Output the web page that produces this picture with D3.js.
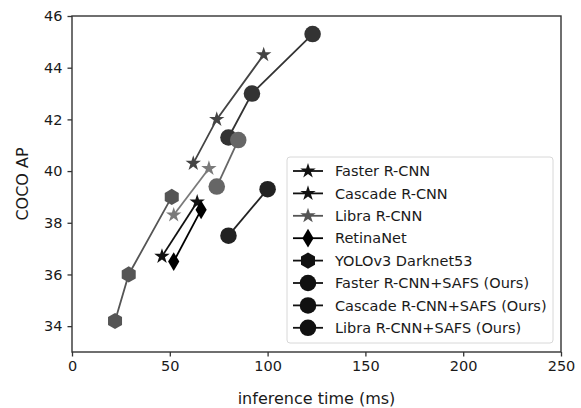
<!DOCTYPE html>
<html>
<head>
<meta charset="utf-8">
<script src="https://cdn.jsdelivr.net/npm/d3@7"></script>
<style>
  body { margin: 0; background: #fff; }
  text { font-family: "DejaVu Sans", sans-serif; fill: #1a1a1a; }
</style>
</head>
<body>
<div id="chart"></div>
<script>
// series data (inference time ms, COCO AP)
var fasterX = [46, 64],            fasterY = [36.7, 38.8];
var cascadeX = [62, 74, 98],       cascadeY = [40.3, 42.0, 44.5];
var libraX = [52, 70],             libraY = [38.3, 40.1];
var retinaX = [52, 66],            retinaY = [36.5, 38.5];
var yoloX = [22, 29, 51],          yoloY = [34.2, 36.0, 39.0];
var fasterSafsX = [80, 100],       fasterSafsY = [37.5, 39.3];
var cascadeSafsX = [80, 92, 123],  cascadeSafsY = [41.3, 43.0, 45.3];
var libraSafsX = [74, 85],         libraSafsY = [39.4, 41.2];

var seriesNames = ["Faster R-CNN", "Cascade R-CNN", "Libra R-CNN", "RetinaNet", "YOLOv3 Darknet53",
  "Faster R-CNN+SAFS (Ours)", "Cascade R-CNN+SAFS (Ours)", "Libra R-CNN+SAFS (Ours)"];
var xTicks = [0, 50, 100, 150, 200, 250];
var yTicks = [34, 36, 38, 40, 42, 44, 46];

// custom marker shapes
var hexagon = {
  draw: function(ctx, size) {
    var r = Math.sqrt(size / (1.5 * Math.sqrt(3)));
    for (var i = 0; i < 6; i++) {
      var a = Math.PI / 2 + i * Math.PI / 3;
      if (i == 0) ctx.moveTo(r * Math.cos(a), -r * Math.sin(a));
      else ctx.lineTo(r * Math.cos(a), -r * Math.sin(a));
    }
    ctx.closePath();
  }
};
var thinDiamond = {
  draw: function(ctx, size) {
    var h = Math.sqrt(size / 0.6); // full height
    var w = 0.6 * h;
    ctx.moveTo(0, -h / 2); ctx.lineTo(w / 2, 0); ctx.lineTo(0, h / 2); ctx.lineTo(-w / 2, 0);
    ctx.closePath();
  }
};

function zip(xs, ys) { return xs.map(function(x, i) { return [x, ys[i]]; }); }

var series = [
  {name: seriesNames[0], pts: zip(fasterX, fasterY), color: "#111", legColor: "#111", sym: d3.symbolStar, size: 74},
  {name: seriesNames[1], pts: zip(cascadeX, cascadeY), color: "#444", legColor: "#111", sym: d3.symbolStar, size: 74},
  {name: seriesNames[2], pts: zip(libraX, libraY), color: "#7a7a7a", legColor: "#555", sym: d3.symbolStar, size: 74},
  {name: seriesNames[3], pts: zip(retinaX, retinaY), color: "#000", legColor: "#000", sym: thinDiamond, size: 210},
  {name: seriesNames[4], pts: zip(yoloX, yoloY), color: "#555", legColor: "#111", sym: hexagon, size: 170},
  {name: seriesNames[5], pts: zip(fasterSafsX, fasterSafsY), color: "#222", legColor: "#111", sym: d3.symbolCircle, size: 215},
  {name: seriesNames[6], pts: zip(cascadeSafsX, cascadeSafsY), color: "#333", legColor: "#111", sym: d3.symbolCircle, size: 215},
  {name: seriesNames[7], pts: zip(libraSafsX, libraSafsY), color: "#666", legColor: "#111", sym: d3.symbolCircle, size: 215}
];

var margin = {top: 16, right: 20, bottom: 56, left: 72},
    width = 561 - margin.left,
    height = 352 - margin.top;

var svg = d3.select("#chart")
  .append("svg")
    .attr("width", 581)
    .attr("height", 408)
  .append("g")
    .attr("transform", "translate(" + margin.left + "," + margin.top + ")");

var x = d3.scaleLinear().domain([0, 250]).range([0, width]);
var y = d3.scaleLinear().domain([33, 46]).range([height, 0]);

// axes
var xAxis = svg.append("g")
  .attr("transform", "translate(0," + height + ")")
  .call(d3.axisBottom(x).tickValues(xTicks).tickSize(4.5).tickPadding(4));
var yAxis = svg.append("g")
  .call(d3.axisLeft(y).tickValues(yTicks).tickSize(4.5).tickPadding(5));
[xAxis, yAxis].forEach(function(a) {
  a.selectAll(".domain").remove();
  a.selectAll(".tick line").attr("stroke", "#333").attr("stroke-width", 1.3);
  a.selectAll(".tick text").attr("font-size", 14.5).attr("fill", "#1a1a1a")
    .attr("font-family", "DejaVu Sans, sans-serif");
});

// frame
svg.append("rect")
  .attr("width", width).attr("height", height)
  .attr("fill", "none").attr("stroke", "#333").attr("stroke-width", 1.4);

// lines and markers
var line = d3.line().x(function(d) { return x(d[0]); }).y(function(d) { return y(d[1]); });
series.forEach(function(s) {
  svg.append("path")
    .attr("d", line(s.pts))
    .attr("fill", "none").attr("stroke", s.color).attr("stroke-width", 1.8);
  svg.selectAll(null)
    .data(s.pts)
    .enter()
    .append("path")
      .attr("d", d3.symbol().type(s.sym).size(s.size))
      .attr("transform", function(d) { return "translate(" + x(d[0]) + "," + y(d[1]) + ")"; })
      .attr("fill", s.color);
});

// legend
var leg = svg.append("g").attr("transform", "translate(" + (287 - margin.left) + "," + (157 - margin.top) + ")");
leg.append("rect")
  .attr("width", 266).attr("height", 186).attr("rx", 3)
  .attr("fill", "#fff").attr("fill-opacity", 0.85).attr("stroke", "#d8d8d8");
series.forEach(function(s, i) {
  var cy = 14 + i * 22.4;
  leg.append("line")
    .attr("x1", 6).attr("x2", 36).attr("y1", cy).attr("y2", cy)
    .attr("stroke", s.legColor).attr("stroke-width", 1.8);
  leg.append("path")
    .attr("d", d3.symbol().type(s.sym).size(s.size))
    .attr("transform", "translate(21," + cy + ")")
    .attr("fill", s.legColor);
  leg.append("text")
    .attr("x", 48).attr("y", cy).attr("dy", "0.36em")
    .attr("font-size", 14.5)
    .text(s.name);
});

// axis labels
svg.append("text")
  .attr("x", width / 2).attr("y", height + 52)
  .attr("text-anchor", "middle").attr("font-size", 16)
  .text("inference time (ms)");
svg.append("text")
  .attr("transform", "translate(-44," + (height / 2) + ") rotate(-90)")
  .attr("text-anchor", "middle").attr("font-size", 16)
  .text("COCO AP");
</script>
</body>
</html>
